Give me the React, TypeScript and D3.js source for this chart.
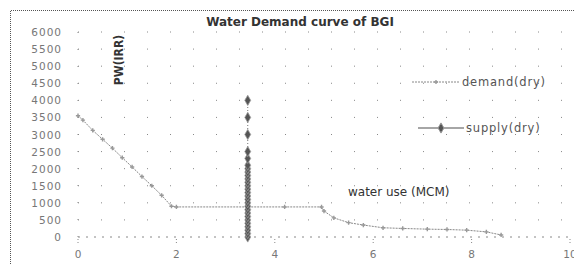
import React, { useEffect, useRef } from "react";
import * as d3 from "d3";

// values
const yTicks = [0, 500, 1000, 1500, 2000, 2500, 3000, 3500, 4000, 4500, 5000, 5500, 6000];
const xTicks = [0, 2, 4, 6, 8, 10];

const demandX = [0, 0.1, 0.3, 0.5, 0.7, 0.9, 1.1, 1.3, 1.5, 1.7, 1.9, 2.0, 3.45, 4.2, 4.95, 5.0, 5.2, 5.5, 5.8, 6.2, 6.6, 7.1, 7.5, 7.9, 8.3, 8.6];
const demandY = [3550, 3420, 3120, 2860, 2600, 2320, 2050, 1770, 1500, 1220, 900, 880, 880, 880, 880, 760, 560, 420, 350, 270, 250, 230, 220, 200, 150, 60];

const supplyX = [3.45, 3.45, 3.45, 3.45, 3.45, 3.45, 3.45, 3.45, 3.45, 3.45, 3.45, 3.45, 3.45, 3.45, 3.45, 3.45, 3.45, 3.45, 3.45, 3.45, 3.45, 3.45, 3.45, 3.45, 3.45, 3.45, 3.45];
const supplyY = [0, 100, 200, 300, 400, 500, 600, 700, 800, 900, 1000, 1100, 1200, 1300, 1400, 1500, 1600, 1700, 1800, 1900, 2000, 2100, 2300, 2500, 3000, 3500, 4000];

const App = () => {
  const ref = useRef<SVGSVGElement | null>(null);

  useEffect(() => {
    drawChart();
  }, []);

  const drawChart = () => {
    const svg = d3.select(ref.current);
    svg.selectAll("*").remove();

    const x = d3.scaleLinear().domain([0, 10]).range([70, 562]);
    const y = d3.scaleLinear().domain([0, 6000]).range([229, 24]);
    const font = "'DejaVu Sans', sans-serif";

    // outer chart border (dotted)
    svg.append("path")
      .attr("d", "M2.5,264 L2.5,2.5 L582,2.5")
      .attr("fill", "none")
      .attr("stroke", "#555")
      .attr("stroke-width", 1)
      .attr("stroke-dasharray", "1,1");

    // gridlines
    svg.append("g")
      .selectAll("line")
      .data(yTicks)
      .join("line")
      .attr("x1", x(0))
      .attr("x2", x(10))
      .attr("y1", (d) => y(d))
      .attr("y2", (d) => y(d))
      .attr("stroke", "#888")
      .attr("stroke-width", 1)
      .attr("stroke-dasharray", (d) => (d === 0 ? "2,6" : "1,22"));

    svg.append("line")
      .attr("x1", x(0)).attr("x2", x(0))
      .attr("y1", y(0)).attr("y2", y(6000))
      .attr("stroke", "#888")
      .attr("stroke-dasharray", "1,16");

    // tick labels
    svg.append("g")
      .selectAll("text")
      .data(yTicks)
      .join("text")
      .attr("x", 54)
      .attr("y", (d) => y(d) + 4)
      .attr("text-anchor", "end")
      .attr("font-family", font)
      .attr("font-size", 10.5)
      .attr("letter-spacing", 1)
      .attr("fill", "#777")
      .text((d) => d);

    svg.append("g")
      .selectAll("text")
      .data(xTicks)
      .join("text")
      .attr("x", (d) => x(d))
      .attr("y", 250)
      .attr("text-anchor", "middle")
      .attr("font-family", font)
      .attr("font-size", 10.5)
      .attr("fill", "#777")
      .text((d) => d);

    svg.append("g")
      .selectAll("line")
      .data(xTicks)
      .join("line")
      .attr("x1", (d) => x(d))
      .attr("x2", (d) => x(d))
      .attr("y1", y(0) + 2)
      .attr("y2", y(0) + 6)
      .attr("stroke", "#888")
      .attr("stroke-dasharray", "1,2");

    // demand line
    const demand = demandX.map((d, i) => [d, demandY[i]] as [number, number]);
    const line = d3.line<[number, number]>().x((d) => x(d[0])).y((d) => y(d[1]));
    svg.append("path")
      .attr("d", line(demand))
      .attr("fill", "none")
      .attr("stroke", "#888")
      .attr("stroke-width", 1)
      .attr("stroke-dasharray", "2,1");

    svg.append("g")
      .selectAll("path")
      .data(demand)
      .join("path")
      .attr("transform", (d) => `translate(${x(d[0])},${y(d[1])})`)
      .attr("d", d3.symbol(d3.symbolCross, 10)())
      .attr("fill", "#999");

    // supply column
    const supply = supplyX.map((d, i) => [d, supplyY[i]] as [number, number]);
    svg.append("path")
      .attr("d", line([[supplyX[0], 0], [supplyX[0], 4000]]))
      .attr("stroke", "#777")
      .attr("stroke-dasharray", "1,2");

    svg.append("g")
      .selectAll("path")
      .data(supply)
      .join("path")
      .attr("transform", (d) => `translate(${x(d[0])},${y(d[1])})`)
      .attr("d", d3.symbol(d3.symbolDiamond, 30)())
      .attr("fill", "#555")
      .attr("stroke", "#999")
      .attr("stroke-width", 0.8);

    // titles
    svg.append("text")
      .attr("x", 292)
      .attr("y", 18)
      .attr("text-anchor", "middle")
      .attr("font-family", font)
      .attr("font-size", 12)
      .attr("font-weight", "bold")
      .attr("fill", "#333")
      .text("Water Demand curve of BGI");

    svg.append("text")
      .attr("transform", "translate(115,52) rotate(-90)")
      .attr("text-anchor", "middle")
      .attr("font-family", "'Liberation Sans Narrow', 'DejaVu Sans Condensed', sans-serif")
      .attr("font-size", 12)
      .attr("font-weight", "bold")
      .attr("fill", "#333")
      .text("PW(IRR)");

    svg.append("text")
      .attr("x", 340)
      .attr("y", 188)
      .attr("font-family", font)
      .attr("font-size", 12)
      .attr("fill", "#333")
      .text("water use (MCM)");

    // legend
    const leg = svg.append("g");
    leg.append("line")
      .attr("x1", 404).attr("x2", 452).attr("y1", 74).attr("y2", 74)
      .attr("stroke", "#888").attr("stroke-dasharray", "2,1");
    leg.append("path")
      .attr("transform", "translate(428,74)")
      .attr("d", d3.symbol(d3.symbolCross, 10)())
      .attr("fill", "#999");
    leg.append("text")
      .attr("x", 454).attr("y", 78)
      .attr("font-family", font).attr("font-size", 11.5).attr("letter-spacing", 0.8).attr("fill", "#555")
      .text("demand(dry)");

    leg.append("line")
      .attr("x1", 410).attr("x2", 456).attr("y1", 120).attr("y2", 120)
      .attr("stroke", "#888").attr("stroke-width", 1.5);
    leg.append("path")
      .attr("transform", "translate(433,120)")
      .attr("d", d3.symbol(d3.symbolDiamond, 30)())
      .attr("fill", "#555")
      .attr("stroke", "#999");
    leg.append("text")
      .attr("x", 458).attr("y", 124)
      .attr("font-family", font).attr("font-size", 11.5).attr("letter-spacing", 0.8).attr("fill", "#555")
      .text("supply(dry)");
  };

  return (
    <div>
      <svg ref={ref} width={574} height={256} style={{ display: "block" }} />
    </div>
  );
};

export default App;
